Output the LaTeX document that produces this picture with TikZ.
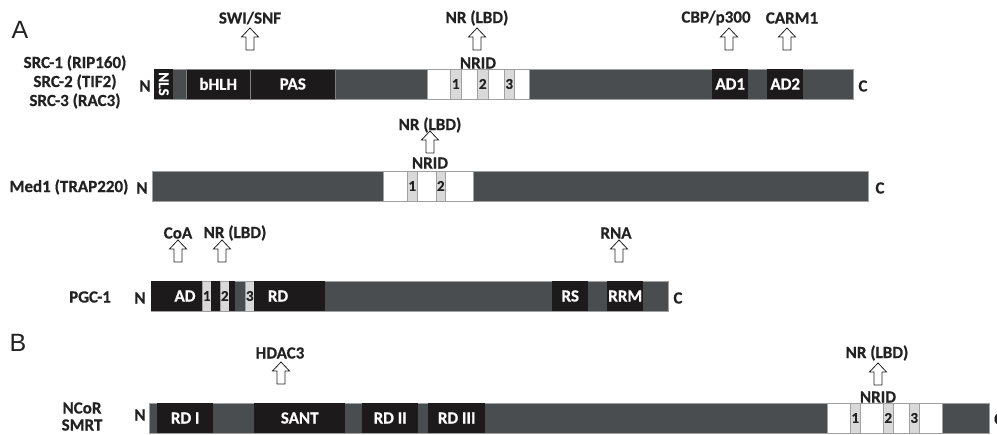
\documentclass[tikz,border=0pt]{standalone}
\usepackage{fontspec}
\setmainfont{Carlito}[BoldFeatures={FakeBold=0.5}]
\newfontfamily\arialf{Liberation Sans}
\definecolor{bargray}{HTML}{4A4D50}
\definecolor{blk}{HTML}{1C1A1A}
\definecolor{lgr}{HTML}{D9D9D9}
\definecolor{edge}{HTML}{A0A0A0}
\definecolor{txt}{HTML}{222222}
\begin{document}
\begin{tikzpicture}[x=1pt,y=-1pt,
  every node/.style={font=\fontsize{17}{19}\selectfont\bfseries, text=txt, inner sep=0pt},
  seg/.style={anchor=west, minimum height=30pt, line width=0.5pt},
  barseg/.style={seg, fill=bargray, draw=edge},
  blkseg/.style={seg, fill=blk, text=white},
  sepseg/.style={blkseg, draw=gray},
  whiteseg/.style={seg, fill=white, draw=edge},
  numseg/.style={seg, fill=lgr, draw=edge, font=\fontsize{15}{16}\selectfont\bfseries},
  hollow/.style={draw=txt, fill=white, line width=0.8pt, line join=miter},
  panel/.style={font=\arialf\fontsize{25}{27}\selectfont, text=txt},
  wlab/.style={text=white},
]
\useasboundingbox (0,0) rectangle (997,435);
\newcommand\hollowup[1]{\draw[hollow] (#1) ++(0,-11) -- ++(8.5,9) -- ++(-4.5,0) -- ++(0,13) -- ++(-8,0) -- ++(0,-13) -- ++(-4.5,0) -- cycle;}

% panel letters
\node[panel] (pA) at (20,30) {A};
\node[panel] (pB) at (18,343) {B};

% ---------------- Row 1: SRC ----------------
\node (src1) at (75,63) {SRC-1 (RIP160)};
\node (src2) at (75,82) {SRC-2 (TIF2)};
\node (src3) at (75,101) {SRC-3 (RAC3)};
\node (n1) at (145,86) {N};
\node[barseg, minimum width=699pt] (bar1) at (154,84) {};
\node[blkseg, minimum width=19pt] (nls) at (154,84) {\fontsize{15}{16}\selectfont\rotatebox{-90}{NLS}};
\node[sepseg, minimum width=64pt] (bhlh) at (186,84) {bHLH};
\node[sepseg, minimum width=85pt] (pas) at (250,84) {PAS};
\node[whiteseg, minimum width=102pt] (nrid1) at (427,84) {};
\node[numseg, minimum width=11pt] (n11) at (450,84) {1};
\node[numseg, minimum width=11pt] (n12) at (477,84) {2};
\node[numseg, minimum width=10pt] (n13) at (504,84) {3};
\node[blkseg, minimum width=36pt] (ad1) at (712,84) {AD1};
\node[blkseg, minimum width=36pt] (ad2) at (767,84) {AD2};
\node (c1) at (863,86) {C};
\node (nridl1) at (478,63) {NRID};

\node (swi) at (250,18) {SWI/SNF};
\coordinate (a11) at (250,39); \hollowup{a11}
\node (nr1) at (477,18) {NR (LBD)};
\coordinate (a12) at (477,39); \hollowup{a12}
\node (cbp) at (716,18) {CBP/p300};
\coordinate (a13) at (729,39); \hollowup{a13}
\node (carm) at (792,18) {CARM1};
\coordinate (a14) at (787,39); \hollowup{a14}

% ---------------- Row 2: Med1 ----------------
\node (med) at (69,187) {Med1 (TRAP220)};
\node (n2) at (142,188) {N};
\node[barseg, minimum width=716pt] (bar2) at (152,186) {};
\node[whiteseg, minimum width=90pt] (nrid2) at (383,186) {};
\node[numseg, minimum width=10pt] (n21) at (407,186) {1};
\node[numseg, minimum width=9pt] (n22) at (436,186) {2};
\node (c2) at (880,188) {C};
\node (nridl2) at (430,163) {NRID};
\node (nr2) at (430,125) {NR (LBD)};
\coordinate (a21) at (430,142); \hollowup{a21}

% ---------------- Row 3: PGC-1 ----------------
\node (pgc) at (90,297) {PGC-1};
\node (n3) at (140,298) {N};
\node[barseg, minimum width=517pt] (bar3) at (151,296) {};
\node[blkseg, minimum width=51pt] (ad) at (151,296) {};
\node[numseg, minimum width=9pt] (n31) at (202,296) {1};
\node[blkseg, minimum width=9pt] (k31) at (211,296) {};
\node[numseg, minimum width=9pt] (n32) at (220,296) {2};
\node[blkseg, minimum width=6pt] (k32) at (229,296) {};
\node[numseg, minimum width=9pt] (n33) at (245,296) {3};
\node[blkseg, minimum width=71pt] (rd) at (254,296) {};
\node[wlab] (adl) at (185,296) {AD};
\node[wlab] (rdl) at (278,296) {RD};
\node[blkseg, minimum width=36pt] (rs) at (552,296) {RS};
\node[blkseg, minimum width=36pt] (rrm) at (607,296) {RRM};
\node (c3) at (678,298) {C};

\node (coa) at (178,233) {CoA};
\coordinate (a31) at (178,251); \hollowup{a31}
\node (nr3) at (235,233) {NR (LBD)};
\coordinate (a32) at (222,251); \hollowup{a32}
\node (rna) at (616,233) {RNA};
\coordinate (a33) at (619,251); \hollowup{a33}

% ---------------- Row 4: NCoR / SMRT ----------------
\node (ncor) at (82,408) {NCoR};
\node (smrt) at (82,425) {SMRT};
\node (n4) at (140,415) {N};
\node[barseg, minimum width=840pt] (bar4) at (149,418) {};
\node[blkseg, minimum width=56pt] (rd1) at (157,418) {RD I};
\node[blkseg, minimum width=91pt] (sant) at (254,418) {SANT};
\node[blkseg, minimum width=56pt] (rd2) at (362,418) {RD II};
\node[blkseg, minimum width=57pt] (rd3) at (428,418) {RD III};
\node[whiteseg, minimum width=115pt] (nrid4) at (827,418) {};
\node[numseg, minimum width=10pt] (n41) at (850,418) {1};
\node[numseg, minimum width=10pt] (n42) at (883,418) {2};
\node[numseg, minimum width=10pt] (n43) at (909,418) {3};
\node[anchor=west] (c4) at (994,419) {C};
\node (nridl4) at (878,397) {NRID};

\node (hdac) at (280,353) {HDAC3};
\coordinate (a41) at (281,373); \hollowup{a41}
\node (nr4) at (877,353) {NR (LBD)};
\coordinate (a42) at (878,374); \hollowup{a42}
\end{tikzpicture}
\end{document}
